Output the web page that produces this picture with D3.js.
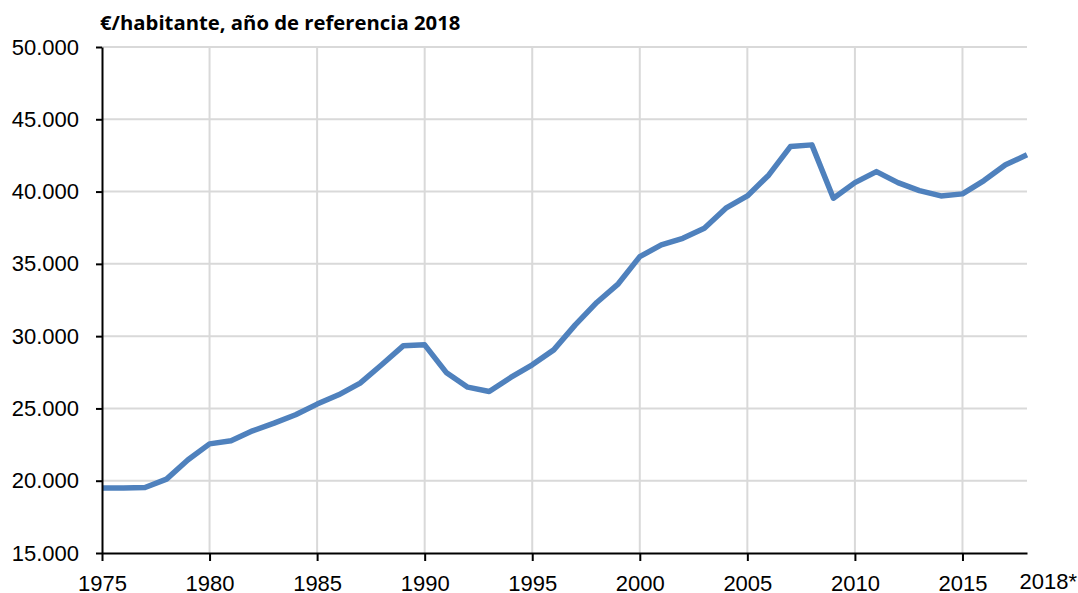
<!DOCTYPE html>
<html>
<head>
<meta charset="utf-8">
<script src="https://cdn.jsdelivr.net/npm/d3@7"></script>
<style>
  body { margin: 0; background: #fff; }
  svg { display: block; font-family: "Open Sans", sans-serif; }
</style>
</head>
<body>
<div id="chart"></div>
<script>
// data
const years = [1975, 1976, 1977, 1978, 1979, 1980, 1981, 1982, 1983, 1984,
  1985, 1986, 1987, 1988, 1989, 1990, 1991, 1992, 1993, 1994,
  1995, 1996, 1997, 1998, 1999, 2000, 2001, 2002, 2003, 2004,
  2005, 2006, 2007, 2008, 2009, 2010, 2011, 2012, 2013, 2014,
  2015, 2016, 2017, 2018];
const gdpPerHead = [19490, 19500, 19530, 20110, 21450, 22550, 22760, 23450, 23980, 24560,
  25300, 25940, 26750, 28020, 29330, 29400, 27490, 26470, 26170, 27140,
  28020, 29050, 30780, 32330, 33620, 35500, 36310, 36770, 37460, 38850,
  39700, 41150, 43110, 43230, 39540, 40620, 41380, 40620, 40070, 39700,
  39840, 40760, 41850, 42540];
const yTicks = [15000, 20000, 25000, 30000, 35000, 40000, 45000, 50000];
const xTicks = [1975, 1980, 1985, 1990, 1995, 2000, 2005, 2010, 2015];
const lastLabel = "2018*";
const title = "€/habitante, año de referencia 2018";

const W = 1078, H = 593;
const margin = { top: 47, right: 51, bottom: 40, left: 102 };

const esLocale = d3.formatLocale({ decimal: ",", thousands: ".", grouping: [3], currency: ["", " €"] });
const fmt = esLocale.format(",d");

const svg = d3.select("#chart").append("svg")
  .attr("width", W)
  .attr("height", H);

const x = d3.scaleLinear()
  .domain([1975, 2018])
  .range([margin.left, W - margin.right]);

const y = d3.scaleLinear()
  .domain([15000, 50000])
  .range([H - margin.bottom, margin.top]);

// gridlines
svg.append("g")
  .selectAll("line")
  .data(yTicks.filter(d => d > 15000))
  .join("line")
  .attr("x1", x(1975)).attr("x2", x(2018))
  .attr("y1", d => y(d)).attr("y2", d => y(d))
  .attr("stroke", "#d9d9d9")
  .attr("stroke-width", 2);

svg.append("g")
  .selectAll("line")
  .data(xTicks.filter(d => d > 1975))
  .join("line")
  .attr("x1", d => x(d)).attr("x2", d => x(d))
  .attr("y1", y(15000)).attr("y2", y(50000))
  .attr("stroke", "#d9d9d9")
  .attr("stroke-width", 2);

// the line
const line = d3.line()
  .x((d, i) => x(years[i]))
  .y(d => y(d));

svg.append("path")
  .datum(gdpPerHead)
  .attr("fill", "none")
  .attr("stroke", "#4f81bd")
  .attr("stroke-width", 5.5)
  .attr("stroke-linejoin", "round")
  .attr("d", line);

// y axis
const yg = svg.append("g")
  .attr("transform", `translate(${margin.left},0)`)
  .call(d3.axisLeft(y)
    .tickValues(yTicks)
    .tickFormat(fmt)
    .tickSize(6)
    .tickPadding(17)
    .tickSizeOuter(0));
yg.select(".domain").attr("stroke", "#000").attr("stroke-width", 2);
yg.selectAll(".tick line").attr("stroke", "#000").attr("stroke-width", 2);
yg.selectAll(".tick text")
  .attr("fill", "#000")
  .style("font-size", "22px");

// x axis
const xg = svg.append("g")
  .attr("transform", `translate(0,${y(15000)})`)
  .call(d3.axisBottom(x)
    .tickValues(xTicks)
    .tickFormat(d => d)
    .tickSize(8)
    .tickPadding(14)
    .tickSizeOuter(0));
xg.select(".domain").attr("stroke", "#000").attr("stroke-width", 2);
xg.selectAll(".tick line").attr("stroke", "#000").attr("stroke-width", 2);
xg.selectAll(".tick text")
  .attr("fill", "#000")
  .style("font-size", "22px");

xg.append("text")
  .attr("x", W - 1)
  .attr("y", 36)
  .attr("text-anchor", "end")
  .attr("fill", "#000")
  .style("font-size", "22px")
  .text(lastLabel);

// title
svg.append("text")
  .attr("x", 100)
  .attr("y", 30)
  .style("font-size", "20.3px")
  .style("font-weight", "bold")
  .attr("fill", "#000")
  .text(title);
</script>
</body>
</html>
